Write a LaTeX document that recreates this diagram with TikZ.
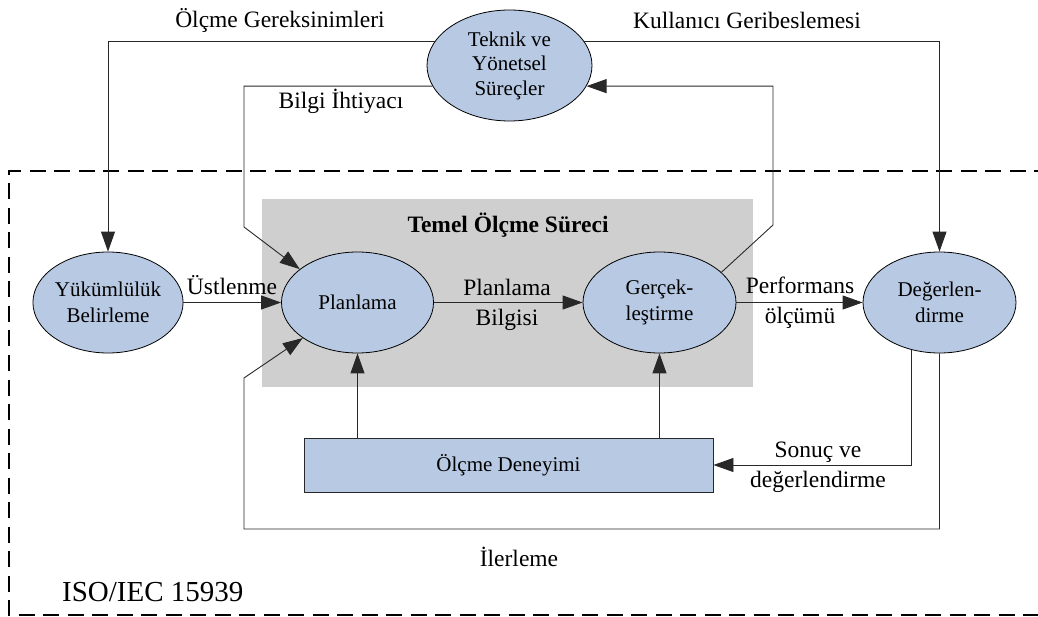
\documentclass[tikz,border=0pt]{standalone}
\usepackage{fontspec}
\setmainfont{Liberation Serif}
\usetikzlibrary{shapes.geometric,arrows.meta,calc}
\definecolor{procblue}{RGB}{184,201,227}
\definecolor{coregray}{RGB}{207,207,207}
\definecolor{linegray}{RGB}{40,40,40}
\begin{document}
\begin{tikzpicture}[x=1pt,y=-1pt,
  proc/.style={ellipse,draw=black,line width=0.8pt,fill=procblue,inner sep=0pt,
    minimum width=152pt,minimum height=101pt,align=center,
    font=\fontsize{21}{26}\selectfont},
  expbox/.style={rectangle,draw=linegray,line width=0.9pt,fill=procblue,
    minimum width=409pt,minimum height=54pt,inner sep=0pt,
    font=\fontsize{21}{26}\selectfont},
  lbl/.style={inner sep=0pt,align=center,font=\fontsize{23.5}{30}\selectfont},
  conn/.style={draw=linegray,line width=0.9pt},
  arr/.style={conn,-{Triangle[length=20pt,width=14pt]}},
  frame/.style={draw=black,line width=1.6pt,dash pattern=on 16pt off 8.5pt}
]
\useasboundingbox (0,0) rectangle (1038,617);

% grey area of the core measurement process
\fill[coregray] (262,199) rectangle (753,387);
\node[inner sep=0pt,font=\fontsize{23.5}{28}\selectfont\bfseries] (core) at (508,225) {Temel Ölçme Süreci};

% outer dashed frame (open to the right)
\draw[frame] (1050,171) -- (9,171) -- (9,615) -- (1050,615);
\node[lbl,anchor=west,font=\fontsize{29}{34}\selectfont] (iso) at (62,592) {ISO/IEC 15939};

% process nodes
\node[proc,minimum width=165pt,minimum height=111pt,font=\fontsize{21}{24.5}\selectfont] (tk) at (509.5,65.5) {Teknik ve\\Yönetsel\\Süreçler};
\node[proc,minimum width=150pt] (yk) at (108,302.5) {Yükümlülük\\Belirleme};
\node[proc] (pl) at (357.5,302.5) {Planlama};
\node[proc,minimum width=153pt] (ge) at (659.5,302.5) {Gerçek-\\leştirme};
\node[proc,minimum width=153pt] (dg) at (939.5,302.5) {Değerlen-\\dirme};
\node[expbox] (od) at (508.5,465) {Ölçme Deneyimi};

% bend points of the routed connectors
\coordinate (bi) at (244,227);
\coordinate (gr) at (773,225);
\coordinate (lb) at (244,529);
\coordinate (la) at (244,378);

% connectors from the technical and management processes
\draw[arr] (tk.162) -| (yk.north);
\draw[arr] (tk.18) -| (dg.north);
\draw[arr] (tk.195) -| (bi) -- (pl.150);
\draw[arr] (ge.26) -- (gr) |- (tk.-15);

% main flow
\draw[arr] (yk) -- (pl);
\draw[arr] (pl) -- (ge);
\draw[arr] (ge) -- (dg);

% feedback paths
\draw[arr] (dg.239) |- (od.east);
\draw[arr] (dg.south) |- (lb) -- (la) -- (pl.213);
\draw[arr] (pl.south |- od.north) -- (pl.south);
\draw[arr] (ge.south |- od.north) -- (ge.south);

% connector labels
\node[lbl] (l1) at (280,20) {Ölçme Gereksinimleri};
\node[lbl] (l2) at (747,20) {Kullanıcı Geribeslemesi};
\node[lbl] (l3) at (341,101) {Bilgi İhtiyacı};
\node[lbl] (l4) at (232,285) {Üstlenme};
\node[lbl] (l5) at (507,305) {Planlama\\Bilgisi};
\node[lbl] (l6) at (800,303) {Performans\\ölçümü};
\node[lbl] (l7) at (818,467) {Sonuç ve\\değerlendirme};
\node[lbl] (l8) at (519,557) {İlerleme};
\end{tikzpicture}
\end{document}
